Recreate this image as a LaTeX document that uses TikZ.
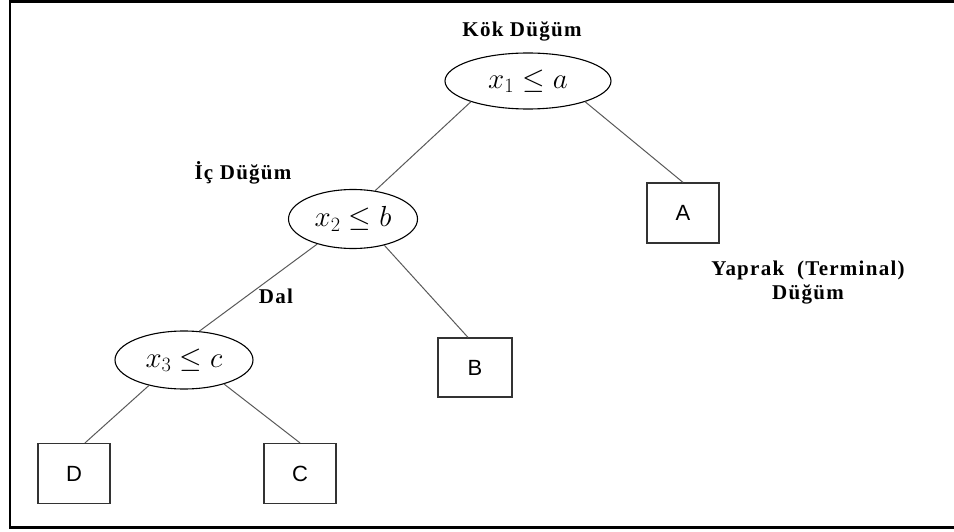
\RequirePackage{fix-cm}
\documentclass[tikz,border=0pt]{standalone}
\usepackage{fontspec}
\setmainfont{Liberation Serif}
\setsansfont{Liberation Sans}
\newfontfamily\labelfont[LetterSpace=6]{Liberation Serif}
\usetikzlibrary{shapes.geometric}

\begin{document}
\begin{tikzpicture}[x=1pt,y=-1pt,
  split/.style={ellipse, draw=black, line width=1.1pt, inner sep=0pt,
    font=\fontsize{29}{29}\selectfont},
  leaf/.style={rectangle, draw=black!80, line width=1.2pt,
    minimum width=72pt, minimum height=60pt, inner sep=0pt,
    font=\sffamily\fontsize{22}{22}\selectfont},
  edge/.style={draw=black!65, line width=1pt},
  tag/.style={font=\labelfont\bfseries\fontsize{21}{24}\selectfont,
    anchor=base, inner sep=0pt}]

  \useasboundingbox (0,0) rectangle (954,532);
  \clip (0,0) rectangle (954,532);

  % outer frame (right edge runs past the page)
  \draw[line width=2.2pt] (975,1.5) -- (10,1.5) -- (10,527.5) -- (975,527.5);

  % decision nodes
  \node[split, minimum width=166pt, minimum height=56pt] (root) at (528,81) {$x_1 \le a$};
  \node[split, minimum width=129pt, minimum height=59pt] (n2) at (353,219) {$x_2 \le b$};
  \node[split, minimum width=138pt, minimum height=58pt] (n3) at (184,360) {$x_3 \le c$};

  % leaves
  \node[leaf] (A) at (683,213) {A};
  \node[leaf, minimum width=74pt, minimum height=59pt] (B) at (475,367.5) {B};
  \node[leaf] (D) at (74,473.5) {D};
  \node[leaf] (C) at (300,473.5) {C};

  % branches
  \draw[edge] (root.200) -- (n2.52);
  \draw[edge] (root.340) -- (A.north);
  \draw[edge] (n2.215) -- (n3.62);
  \draw[edge] (n2.320) -- ([xshift=-7pt]B.north);
  \draw[edge] (n3.216) -- ([xshift=11pt]D.north);
  \draw[edge] (n3.329) -- (C.north);

  % captions
  \node[tag] (kok) at (522,37) {Kök Düğüm};
  \node[tag] (ic) at (243,180) {İç Düğüm};
  \node[tag] (dal) at (276,303) {Dal};
  \node[tag] (yaprak) at (808,275) {Yaprak\ \ (Terminal)};
  \node[tag] (yaprak2) at (808,299) {Düğüm};
\end{tikzpicture}
\end{document}
